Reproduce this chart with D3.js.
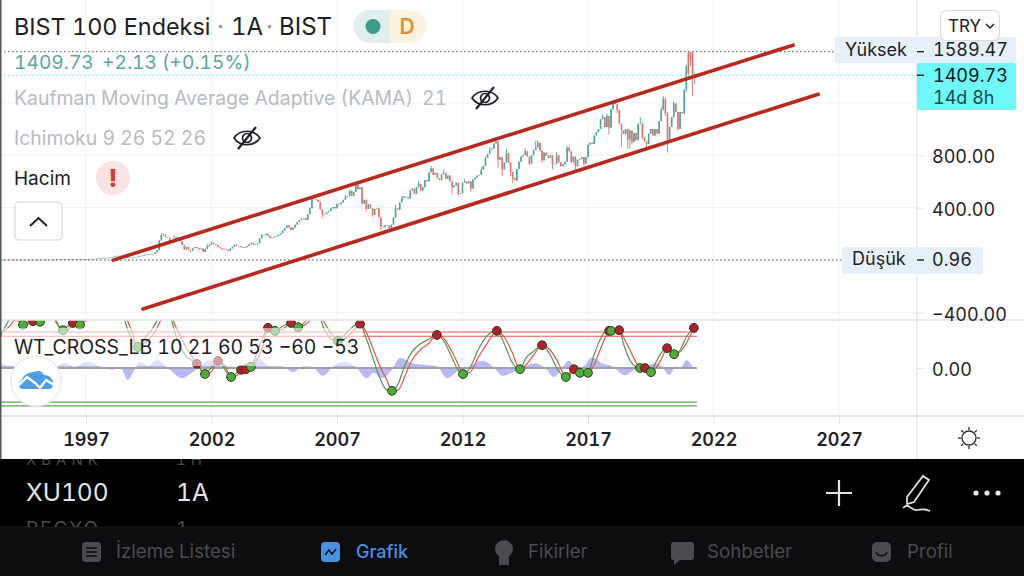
<!DOCTYPE html>
<html>
<head>
<meta charset="utf-8">
<script src="https://cdn.jsdelivr.net/npm/d3@7"></script>
<style>
  html, body { margin: 0; padding: 0; background: #fff; }
  svg { display: block; }
  text { font-family: Inter, "Noto Sans", sans-serif; font-variant-numeric: tabular-nums; }
</style>
</head>
<body>
<div id="chart"></div>
<script>
// monthly closes, first bar is Aug 1993
const firstYear = 1993, firstMonth = 7;
const closes = [
  2, 2, 3, 3, 4,
  3, 3, 2, 2, 2, 2, 2, 3, 3, 3, 3, 3,
  3, 4, 3, 4, 4, 4, 4, 4, 4, 4, 4, 4,
  5, 5, 5, 5, 6, 6, 6, 6, 5, 6, 6, 7,
  9, 8, 8, 9, 10, 11, 13, 14, 17, 16, 17, 19,
  22, 25, 28, 33, 32, 30, 33, 25, 18, 18, 20, 22,
  24, 28, 32, 36, 42, 40, 46, 44, 48, 58, 75, 150,
  190, 185, 175, 170, 135, 150, 160, 175, 150, 145, 115, 80,
  100, 78, 72, 90, 100, 92, 82, 88, 62, 85, 105, 118,
  132, 122, 116, 100, 92, 82, 86, 80, 72, 88, 102, 118,
  108, 106, 98, 92, 98, 108, 122, 132, 118, 120, 128, 165,
  190, 192, 200, 185, 168, 172, 178, 182, 195, 205, 225, 245,
  265, 250, 232, 248, 270, 290, 305, 315, 320, 305, 350, 395,
  470, 465, 460, 445, 385, 345, 350, 365, 375, 395, 405, 395,
  430, 425, 440, 460, 480, 490, 530, 490, 520, 575, 540, 555,
  430, 460, 390, 425, 395, 345, 390, 395, 325, 255, 250, 265,
  265, 245, 270, 325, 395, 385, 440, 475, 485, 480, 470, 530,
  545, 505, 555, 580, 530, 555, 610, 600, 670, 700, 650, 665,
  625, 610, 655, 665, 620, 645, 600, 555, 570, 590, 505, 510,
  590, 600, 585, 600, 545, 615, 630, 645, 650, 690, 720, 780,
  810, 840, 850, 890, 905, 765, 785, 690, 745, 815, 745, 670,
  625, 610, 695, 750, 790, 800, 830, 790, 735, 800, 840, 860,
  895, 835, 760, 820, 795, 780, 800, 730, 735, 800, 745, 715,
  730, 750, 855, 830, 745, 790, 715, 765, 770, 785, 735, 785,
  880, 895, 885, 950, 975, 1000, 1075, 1090, 1015, 1100, 1010, 1150,
  1200, 1190, 1145, 1040, 990, 960, 1000, 920, 990, 900, 970, 915,
  1040, 1045, 935, 905, 885, 965, 1000, 950, 1000, 965, 1060, 1145,
  1230, 1115, 915, 1015, 1090, 1195, 1130, 1000, 1130, 1120, 1300, 1475,
  1425, 1530, 1407.6, 1409.73
];

// bars whose open does not sit on the previous close
const gapMonths = ['2021-01', '2021-02', '2021-03', '2021-04'];
const gapOpens = [1585, 1585, 1585, 1407.6];

// wicks that stick out of the body
const wickMonths = [
  '2000-01', '2000-02', '2000-03', '2000-05', '2000-07', '2000-11', '2001-03', '2001-11', '2002-01', '2002-09',
  '2004-01', '2005-03', '2005-12', '2006-02', '2006-06', '2007-05', '2007-10', '2008-03', '2008-06', '2008-10',
  '2009-02', '2009-05', '2009-08', '2010-04', '2010-10', '2011-04', '2011-08', '2011-11', '2012-02', '2012-05',
  '2012-10', '2012-12', '2013-02', '2013-05', '2013-06', '2013-08', '2013-10', '2013-12', '2014-01', '2014-03',
  '2014-07', '2014-09', '2014-12', '2015-01', '2015-03', '2015-08', '2015-10', '2016-03', '2016-04', '2016-07',
  '2016-11', '2017-08', '2017-10', '2017-11', '2018-01', '2018-03', '2018-05', '2018-08', '2018-09', '2018-10',
  '2019-02', '2019-03', '2019-05', '2019-12', '2020-01', '2020-02', '2020-03', '2020-06', '2020-08', '2020-11',
  '2020-12', '2021-01', '2021-02', '2021-03', '2021-04'
];
const wickHighs = [
  205, 205, 200, null, 190, 150, null, 125, 140, null,
  200, null, 400, 480, null, 500, 590, null, null, null,
  null, 420, 490, 600, 720, 690, null, null, 620, null,
  710, 790, 860, 935, null, null, 850, null, null, null,
  850, null, 910, 915, null, null, 825, 870, 870, null,
  null, 1110, 1115, null, 1215, 1180, null, null, null, null,
  1090, null, null, 1170, 1250, 1240, 1130, 1210, null, null,
  1490, 1589.47, 1589.47, 1589.47, 1430
];
const wickLows = [
  null, null, null, 120, null, null, 60, null, null, 65,
  null, 222, null, null, 320, null, null, 370, 330, 230,
  222, null, null, null, null, null, 500, 490, null, 520,
  null, null, null, null, 700, 640, null, 640, 590, 600,
  null, 720, null, null, 740, 690, null, null, null, 690,
  720, null, null, 960, null, 1120, 860, 850, 850, 880,
  null, 920, 835, null, null, 1100, 820, null, 985, 1110,
  1280, 1400, 1480, 1250, 1340
];

const priceGrid = [1200, 800, 400, 0, -400];
const priceTicks = [800, 400, -400];
const yearTicks = [1997, 2002, 2007, 2012, 2017, 2022, 2027];

const highLabel = 1589.47, lowLabel = 0.96, lastLabel = 1409.73;

// hand drawn channel: start and end of each trend line
const channelYears = [[1998.08, 2025.17], [1999.27, 2026.17]];
const channelValues = [[0, 1639], [-373, 1265]];

// WT_CROSS_LB lines, read at their turning points
const wtYears = [
  1993.57, 1993.89, 1994.21, 1994.49, 1994.69, 1994.89, 1995.17, 1995.57, 1996.08, 1996.28,
  1996.48, 1996.76, 1997.00, 1997.36, 1998.16, 1998.43, 1998.67, 1998.83, 1999.07, 1999.35,
  1999.67, 1999.95, 2000.15, 2000.35, 2000.59, 2000.94, 2001.42, 2001.74, 2001.98, 2002.26,
  2002.54, 2002.78, 2003.02, 2003.18, 2003.37, 2003.57, 2003.85, 2004.09, 2004.25, 2004.41,
  2004.53, 2004.85, 2005.17, 2005.45, 2005.73, 2006.00, 2006.24, 2006.44, 2006.72, 2007.04,
  2007.36, 2007.68, 2007.92, 2008.16, 2008.39, 2008.71, 2008.99, 2009.19, 2009.43, 2009.71,
  2009.99, 2010.31, 2010.63, 2010.98, 2011.30, 2011.58, 2011.82, 2012.02, 2012.30, 2012.62,
  2012.94, 2013.37, 2013.69, 2013.97, 2014.29, 2014.53, 2014.81, 2015.17, 2015.49, 2015.80,
  2016.12, 2016.28, 2016.44, 2016.60, 2016.76, 2017.00, 2017.24, 2017.48, 2017.68, 2017.84,
  2018.04, 2018.24, 2018.43, 2018.67, 2018.91, 2019.07, 2019.27, 2019.47, 2019.71, 2019.95,
  2020.15, 2020.31, 2020.43, 2020.67, 2020.90, 2021.06, 2021.22
];
const wt1 = [
  50, 77, 88, 72, 77, 78, 77, 93, 63, 70,
  75, 72, 87, 105, 110, 93, 63, 47, 35, 50,
  67, 87, 97, 87, 53, 22, 7, -10, 0, 12,
  -3, -15, -7, -3, -2, 2, 30, 55, 67, 62,
  62, 70, 75, 68, 77, 93, 93, 70, 50, 45,
  58, 70, 73, 50, 22, -17, -37, -38, -27, 5,
  27, 40, 47, 55, 42, 17, -3, -10, 0, 30,
  52, 62, 38, 10, -2, 17, 27, 38, 22, -3,
  -15, -7, -2, -7, -8, -8, 22, 47, 60, 62,
  62, 63, 38, 13, 2, 0, 0, -8, 10, 27,
  33, 27, 23, 30, 50, 60, 67
];
const wt2 = [
  58, 67, 80, 72, 73, 78, 77, 87, 63, 63,
  75, 72, 80, 105, 113, 105, 77, 60, 35, 42,
  55, 77, 93, 90, 67, 38, 7, -10, -7, 12,
  3, -15, -12, -3, 0, 2, 17, 43, 67, 65,
  62, 65, 75, 68, 72, 83, 97, 80, 60, 45,
  50, 63, 73, 60, 37, 3, -20, -38, -37, -13,
  13, 30, 40, 55, 47, 27, 7, -10, -7, 17,
  38, 62, 50, 27, -2, 5, 20, 38, 30, 10,
  -15, -12, -2, -5, -8, -8, 5, 30, 50, 62,
  62, 63, 50, 30, 10, 0, 0, -8, 0, 17,
  33, 30, 23, 27, 40, 53, 67
];

// blue area around the zero line
const histYears = [
  1993.57, 1994.17, 1994.77, 1995.49, 1996.16, 1996.56, 1997.04, 1997.56, 1998.08, 1998.35,
  1998.67, 1998.91, 1999.15, 1999.47, 1999.83, 2000.27, 2000.82, 2001.22, 2001.54, 2001.94,
  2002.42, 2002.86, 2003.33, 2003.81, 2004.33, 2004.81, 2005.25, 2005.65, 2006.00, 2006.44,
  2006.84, 2007.24, 2007.72, 2008.19, 2008.47, 2008.79, 2009.19, 2009.51, 2009.99, 2010.59,
  2010.98, 2011.38, 2011.82, 2012.30, 2012.82, 2013.21, 2013.61, 2014.09, 2014.45, 2014.89,
  2015.29, 2015.65, 2015.96, 2016.24, 2016.56, 2016.88, 2017.16, 2017.56, 2017.96, 2018.47,
  2018.95, 2019.27, 2019.67, 2019.95, 2020.23, 2020.51, 2020.67, 2020.94, 2021.18, 2021.34
];
const histValues = [
  7, 3, 10, -3, 8, 2, 10, 3, -3, 2,
  -20, -5, 10, 3, 13, 0, -17, -8, 3, 13,
  3, 2, -2, 17, 3, 3, -7, 3, 2, -13,
  2, 10, 3, -17, -8, -17, -3, 17, 8, 5,
  3, -17, -5, 3, 12, 2, -13, -5, 2, 8,
  0, -15, 0, 12, -3, 5, 18, 8, 3, -12,
  0, 2, 8, 2, -12, 3, 0, 13, 2, 0
];

// cross dots
const crossYears = [1994.49, 1994.89, 1995.17, 1996.08, 1996.48, 1996.76, 1999.07, 2001.42, 2001.74, 2002.26, 2002.78, 2003.18, 2003.37, 2003.57, 2004.25, 2004.53, 2005.17, 2005.45, 2007.04, 2007.92, 2009.19, 2010.98, 2012.02, 2013.37, 2014.29, 2015.17, 2016.12, 2016.44, 2016.68, 2017.00, 2017.84, 2017.92, 2018.24, 2019.07, 2019.27, 2019.51, 2020.15, 2020.43, 2021.22];
const crossValues = [72, 78, 77, 63, 75, 72, 35, 7, -10, 12, -15, -3, -2, 2, 67, 62, 75, 68, 45, 73, -38, 55, -10, 62, -2, 38, -15, -2, -8, -8, 62, 62, 63, 0, 0, -7, 33, 23, 67];
const crossSides = ['g', 'r', 'g', 'g', 'r', 'g', 'g', 'r', 'g', 'r', 'g', 'r', 'r', 'g', 'r', 'g', 'r', 'g', 'g', 'r', 'g', 'r', 'g', 'r', 'g', 'r', 'g', 'r', 'g', 'g', 'r', 'g', 'r', 'g', 'r', 'g', 'r', 'g', 'r'];

const wtLevelsRed = [60, 53];
const wtLevelsGreen = [-57, -63];
const wtLastYear = 2021.34;

const width = 1024, height = 576;
const axisX = 917, paneSplit = 320, timeLine = 416, blackTop = 459, tabTop = 527;

const x = d3.scaleLinear().domain([1997, 2027]).range([86, 839]);
const y = d3.scaleLinear().domain([0, 800]).range([260.1, 155.2]);
const yWt = d3.scaleLinear().domain([0, 60]).range([368, 332]);

const svg = d3.select('#chart').append('svg').attr('width', width).attr('height', height);
svg.append('rect').attr('width', width).attr('height', height).attr('fill', '#fff');

const defs = svg.append('defs');
defs.append('clipPath').attr('id', 'pricePane').append('rect').attr('width', axisX).attr('height', paneSplit);
defs.append('clipPath').attr('id', 'wtPane').append('rect').attr('y', paneSplit).attr('width', axisX).attr('height', timeLine - paneSplit);

// grid
svg.append('g').selectAll('line').data(yearTicks).join('line')
  .attr('x1', d => x(d)).attr('x2', d => x(d)).attr('y1', 0).attr('y2', timeLine)
  .attr('stroke', '#f0f3fa').attr('stroke-width', 1.2);
svg.append('g').selectAll('line').data(priceGrid).join('line')
  .attr('x1', 0).attr('x2', axisX).attr('y1', d => y(d)).attr('y2', d => y(d))
  .attr('stroke', '#f0f3fa').attr('stroke-width', 1.2);

// candles
const candles = closes.map((c, i) => {
  const m = firstMonth + i;
  const yr = firstYear + Math.floor(m / 12);
  const key = yr + '-' + String(m % 12 + 1).padStart(2, '0');
  const gap = gapMonths.indexOf(key);
  const open = gap >= 0 ? gapOpens[gap] : (i ? closes[i - 1] : c);
  const wick = wickMonths.indexOf(key);
  const high = Math.max(open, c, wick >= 0 && wickHighs[wick] !== null ? wickHighs[wick] : 0);
  const low = Math.min(open, c, wick >= 0 && wickLows[wick] !== null ? wickLows[wick] : 1e9);
  return { t: yr + (m % 12) / 12, open, close: c, high, low };
});
const upColor = '#4aa89c', downColor = '#e8706c';
const priceMarks = svg.append('g').attr('clip-path', 'url(#pricePane)');
priceMarks.selectAll('line.wick').data(candles).join('line').attr('class', 'wick')
  .attr('x1', d => x(d.t)).attr('x2', d => x(d.t))
  .attr('y1', d => y(d.high)).attr('y2', d => y(d.low))
  .attr('stroke', d => d.close >= d.open ? upColor : downColor).attr('stroke-width', 0.9);
priceMarks.selectAll('rect.body').data(candles).join('rect').attr('class', 'body')
  .attr('x', d => x(d.t) - 0.8).attr('width', 1.6)
  .attr('y', d => y(Math.max(d.open, d.close)))
  .attr('height', d => Math.max(0.6, Math.abs(y(d.open) - y(d.close))))
  .attr('fill', d => d.close >= d.open ? upColor : downColor);

// high, low and last price lines
const dotted = [[highLabel, 835, '#555'], [lowLabel, 842, '#555'], [lastLabel, axisX, '#6fe3e3']];
priceMarks.selectAll('line.mark').data(dotted).join('line').attr('class', 'mark')
  .attr('x1', 0).attr('x2', d => d[1]).attr('y1', d => y(d[0])).attr('y2', d => y(d[0]))
  .attr('stroke', d => d[2]).attr('stroke-width', 1).attr('stroke-dasharray', '1.5 2.5');

// channel
priceMarks.selectAll('line.channel').data(channelYears).join('line').attr('class', 'channel')
  .attr('x1', d => x(d[0])).attr('x2', d => x(d[1]))
  .attr('y1', (d, i) => y(channelValues[i][0])).attr('y2', (d, i) => y(channelValues[i][1]))
  .attr('stroke', '#b7291c').attr('stroke-width', 3.6).attr('stroke-linecap', 'round');

// lower pane
const wtMarks = svg.append('g').attr('clip-path', 'url(#wtPane)');
const histData = histYears.map((t, i) => ({ t, v: histValues[i] }));
wtMarks.append('path').datum(histData)
  .attr('d', d3.area().x(d => x(d.t)).y0(yWt(0)).y1(d => yWt(d.v)).curve(d3.curveMonotoneX))
  .attr('fill', '#7f7ff0').attr('fill-opacity', 0.55);
wtMarks.append('line')
  .attr('x1', 0).attr('x2', x(wtLastYear)).attr('y1', yWt(0)).attr('y2', yWt(0))
  .attr('stroke', '#a0a0aa').attr('stroke-width', 1.8);
wtMarks.selectAll('line.red').data(wtLevelsRed).join('line').attr('class', 'red')
  .attr('x1', 0).attr('x2', x(wtLastYear)).attr('y1', d => yWt(d)).attr('y2', d => yWt(d))
  .attr('stroke', '#e8534e').attr('stroke-width', 1.1);
wtMarks.selectAll('line.green').data(wtLevelsGreen).join('line').attr('class', 'green')
  .attr('x1', 0).attr('x2', x(wtLastYear)).attr('y1', d => yWt(d)).attr('y2', d => yWt(d))
  .attr('stroke', '#5fa55a').attr('stroke-width', 1.3);
const wtLine = d3.line().x((d, i) => x(wtYears[i])).y(d => yWt(d)).curve(d3.curveMonotoneX);
wtMarks.append('path').datum(wt2).attr('d', wtLine).attr('fill', 'none').attr('stroke', '#e8534e').attr('stroke-width', 1.2);
wtMarks.append('path').datum(wt1).attr('d', wtLine).attr('fill', 'none').attr('stroke', '#4f9a4a').attr('stroke-width', 1.2);
wtMarks.selectAll('circle').data(crossYears).join('circle')
  .attr('cx', d => x(d)).attr('cy', (d, i) => yWt(crossValues[i])).attr('r', 4.4)
  .attr('fill', (d, i) => crossSides[i] === 'g' ? '#4caf33' : '#b3202a')
  .attr('stroke', '#2d3a2a').attr('stroke-width', 1);

// legend backdrop washes out the lower pane behind the WT label
svg.append('rect').attr('x', 2).attr('y', 328).attr('width', 360).attr('height', 38).attr('fill', '#fff').attr('fill-opacity', 0.55);

// frame
svg.append('line').attr('x1', axisX).attr('x2', axisX).attr('y1', 0).attr('y2', blackTop).attr('stroke', '#e0e3eb').attr('stroke-width', 1.3);
svg.append('line').attr('x1', 0).attr('x2', width).attr('y1', paneSplit).attr('y2', paneSplit).attr('stroke', '#e0e3eb').attr('stroke-width', 1.3);
svg.append('line').attr('x1', 0).attr('x2', width).attr('y1', timeLine).attr('y2', timeLine).attr('stroke', '#e0e3eb').attr('stroke-width', 2);
svg.append('rect').attr('width', 1.5).attr('height', blackTop).attr('fill', '#55565c');

// price axis
const priceAxis = d3.axisRight(y).tickValues(priceTicks).tickSize(6).tickPadding(9)
  .tickFormat(d => d3.format('.2f')(d).replace('-', '\u2212'));
const priceG = svg.append('g').attr('transform', `translate(${axisX},0)`).call(priceAxis);
const wtAxis = d3.axisRight(yWt).tickValues([0]).tickSize(6).tickPadding(9).tickFormat(d3.format('.2f'));
const wtG = svg.append('g').attr('transform', `translate(${axisX},0)`).call(wtAxis);
[priceG, wtG].forEach(g => {
  g.select('.domain').remove();
  g.selectAll('line').attr('stroke', '#e0e3eb');
  g.selectAll('text').attr('font-size', 18).attr('fill', '#1f2126').attr('font-family', 'Inter').attr('dy', '0.42em');
});

// time axis
const timeAxis = d3.axisBottom(x).tickValues(yearTicks).tickSize(8).tickPadding(9).tickFormat(d3.format('d'));
const timeG = svg.append('g').attr('transform', `translate(0,${timeLine})`).call(timeAxis);
timeG.select('.domain').remove();
timeG.selectAll('line').attr('stroke', '#e0e3eb');
timeG.selectAll('text').attr('font-size', 18).attr('font-weight', 600).attr('fill', '#1f2126').attr('font-family', 'Inter');

// price labels
function box(x0, y0, w, h, fill, r) {
  svg.append('rect').attr('x', x0).attr('y', y0).attr('width', w).attr('height', h).attr('fill', fill).attr('rx', r || 0);
}
function label(str, px, py, size, fill, opts) {
  const t = svg.append('text').attr('x', px).attr('y', py).attr('font-size', size).attr('fill', fill).text(str);
  if (opts && opts.anchor) t.attr('text-anchor', opts.anchor);
  if (opts && opts.weight) t.attr('font-weight', opts.weight);
  return t;
}
box(835, 37, 181, 26, '#e6f0fa', 2);
box(917, 63, 99, 47, '#6ff8f8', 2);
box(842, 247, 141, 27, '#e6f0fa', 2);
label('Yüksek', 845, 56, 18, '#1f2126');
label(d3.format('.2f')(highLabel), 933, 56, 18, '#1f2126');
label(d3.format('.2f')(lastLabel), 933, 82, 18, '#10181a');
label('14d 8h', 933, 104, 18, '#1c4a4c');
label('Düşük', 852, 265, 18, '#1f2126');
label(d3.format('.2f')(lowLabel), 932, 266, 18, '#1f2126');
[highLabel, lastLabel, lowLabel].forEach(v => {
  svg.append('line').attr('x1', axisX).attr('x2', axisX + 7).attr('y1', y(v)).attr('y2', y(v)).attr('stroke', '#222').attr('stroke-width', 1.4);
});

// TRY button
svg.append('rect').attr('x', 940.5).attr('y', 10.5).attr('width', 59).attr('height', 30).attr('rx', 6).attr('fill', '#fff').attr('stroke', '#dcdde2').attr('stroke-width', 1.2);
label('TRY', 948, 32, 17, '#1f2126');
svg.append('path').attr('d', 'M986 24l4 4l4-4').attr('fill', 'none').attr('stroke', '#1f2126').attr('stroke-width', 1.5);

// legend
label('BIST 100 Endeksi', 14, 35, 23.4, '#1b1d22');
label('·', 217, 35, 24, '#8a8d94');
label('1A', 231, 35, 24, '#1b1d22');
label('·', 266, 35, 24, '#8a8d94');
label('BIST', 279, 35, 24, '#1b1d22');
svg.append('path').attr('d', 'M390 10h-20a16.5 16.5 0 0 0 0 33h20z').attr('fill', '#e0efee');
svg.append('path').attr('d', 'M390 10h20a16.5 16.5 0 0 1 0 33h-20z').attr('fill', '#fdf1df');
svg.append('circle').attr('cx', 373).attr('cy', 26.5).attr('r', 7.5).attr('fill', '#3f9a8c');
label('D', 407, 34, 21, '#e8902e', { anchor: 'middle', weight: 600 });
label('1409.73', 14, 68.5, 19.2, '#5aa89b');
label('+2.13 (+0.15%)', 102, 68.5, 19.2, '#5aa89b');
label('Kaufman Moving Average Adaptive (KAMA)', 14, 105, 19.4, '#b8bbc3');
label('21', 422, 105, 19.4, '#b8bbc3');
label('Ichimoku 9 26 52 26', 14, 145, 19.4, '#b8bbc3');
label('Hacim', 14, 185, 19, '#1b1d22');
label('WT_CROSS_LB 10 21 60 53 −60 −53', 14, 354, 19.4, '#1b1d22');

function eyeOff(cx, cy) {
  const g = svg.append('g').attr('transform', `translate(${cx},${cy})`).attr('fill', 'none').attr('stroke', '#1f2126').attr('stroke-width', 1.7);
  g.append('path').attr('d', 'M-13 0C-7-9 7-9 13 0C7 9-7 9-13 0z');
  g.append('circle').attr('r', 4.5);
  g.append('line').attr('x1', -9).attr('y1', 11).attr('x2', 9).attr('y2', -11).attr('stroke-width', 2.2);
}
eyeOff(485, 98);
eyeOff(247, 138);

svg.append('circle').attr('cx', 113).attr('cy', 178).attr('r', 17).attr('fill', '#f9e3e3');
label('!', 113, 187, 25, '#d8393c', { anchor: 'middle', weight: 800 });

svg.append('rect').attr('x', 15).attr('y', 202).attr('width', 47).attr('height', 38).attr('rx', 4).attr('fill', '#fff').attr('stroke', '#d7d8dd').attr('stroke-width', 1.2);
svg.append('path').attr('d', 'M30 226l8.5-8l8.5 8').attr('fill', 'none').attr('stroke', '#1f2126').attr('stroke-width', 2);

// logo
svg.append('circle').attr('cx', 36).attr('cy', 381).attr('r', 25).attr('fill', '#fff').attr('stroke', '#ececef').attr('stroke-width', 1.5);
svg.append('path').attr('d', 'M23 389c-5 0-6-7-1-9c1-5 7-8 12-8c4-2 8-1 10 3c5 0 8 3 9 7c1 4-1 7-4 7z').attr('fill', '#4c9fe6');
svg.append('path').attr('d', 'M18 386l9-9l8 6l5 5l6-8l8 5').attr('fill', 'none').attr('stroke', '#fff').attr('stroke-width', 2.4);

// sun icon
const sun = svg.append('g').attr('transform', 'translate(969,438)').attr('fill', 'none').attr('stroke', '#2a2c31').attr('stroke-width', 1.3);
sun.append('circle').attr('r', 7);
d3.range(8).forEach(i => {
  const a = i * Math.PI / 4;
  sun.append('line').attr('x1', 8 * Math.cos(a)).attr('y1', 8 * Math.sin(a)).attr('x2', 11 * Math.cos(a)).attr('y2', 11 * Math.sin(a));
});

// app chrome below the chart
svg.append('rect').attr('y', blackTop).attr('width', width).attr('height', height - blackTop).attr('fill', '#000');
svg.append('rect').attr('y', tabTop).attr('width', width).attr('height', height - tabTop).attr('fill', '#0d0d0f');
svg.append('line').attr('x1', 0).attr('x2', width).attr('y1', tabTop).attr('y2', tabTop).attr('stroke', '#1c1c1f');
defs.append('clipPath').attr('id', 'listClip').append('rect').attr('y', blackTop).attr('width', width).attr('height', tabTop - blackTop);
const list = svg.append('g').attr('clip-path', 'url(#listClip)');
[['XBANK', '1H', 465, 15, 5, '#4a4a4c'], ['XU100', '1A', 501, 24.5, 0, '#e4e4e6'], ['PEGYO', '1', 535, 19, 2, '#4a4a4c']].forEach(d => {
  list.append('text').attr('x', 26).attr('y', d[2]).attr('font-size', d[3]).attr('letter-spacing', d[4]).attr('fill', d[5]).text(d[0]);
  list.append('text').attr('x', 176).attr('y', d[2]).attr('font-size', d[3]).attr('letter-spacing', d[4]).attr('fill', d[5]).text(d[1]);
});
svg.append('path').attr('d', 'M839 480v26M826 493h26').attr('stroke', '#e4e4e6').attr('stroke-width', 2.2).attr('fill', 'none');
svg.append('path').attr('d', 'M907 497l16-21l6 4l-15 22l-7 2zM903 508c6-6 8 3 14 2c5-1 9-1 13 1').attr('stroke', '#e4e4e6').attr('stroke-width', 1.7).attr('fill', 'none');
[976, 987, 998].forEach(cx => svg.append('circle').attr('cx', cx).attr('cy', 493).attr('r', 2.6).attr('fill', '#e4e4e6'));

const tabText = '#4a4a50';
label('İzleme Listesi', 116, 558, 18.7, tabText);
label('Grafik', 356, 558, 18, '#4a90e2', { weight: 500 });
label('Fikirler', 528, 558, 18.5, tabText);
label('Sohbetler', 707, 558, 18.7, tabText);
label('Profil', 907, 558, 18.7, tabText);
svg.append('rect').attr('x', 82).attr('y', 542).attr('width', 19).attr('height', 20).attr('rx', 4).attr('fill', tabText);
svg.append('path').attr('d', 'M86 548h11M86 552h11M86 556h11').attr('stroke', '#0d0d0f').attr('stroke-width', 1.5);
svg.append('rect').attr('x', 321).attr('y', 542).attr('width', 19).attr('height', 20).attr('rx', 4).attr('fill', '#4a90e2');
svg.append('path').attr('d', 'M325 555l4-5l3 4l4-5').attr('stroke', '#0d0d0f').attr('stroke-width', 1.4).attr('fill', 'none');
svg.append('circle').attr('cx', 504).attr('cy', 549).attr('r', 9).attr('fill', tabText);
svg.append('rect').attr('x', 499).attr('y', 556).attr('width', 10).attr('height', 9).attr('fill', tabText);
svg.append('path').attr('d', 'M674 542h17a3 3 0 0 1 3 3v12a3 3 0 0 1-3 3h-11l-6 5v-5a3 3 0 0 1-3-3v-12a3 3 0 0 1 3-3z').attr('fill', tabText);
svg.append('rect').attr('x', 872).attr('y', 542).attr('width', 19).attr('height', 20).attr('rx', 5).attr('fill', tabText);
svg.append('path').attr('d', 'M876 552c2 5 9 5 11 0').attr('stroke', '#0d0d0f').attr('stroke-width', 1.5).attr('fill', 'none');
</script>
</body>
</html>
